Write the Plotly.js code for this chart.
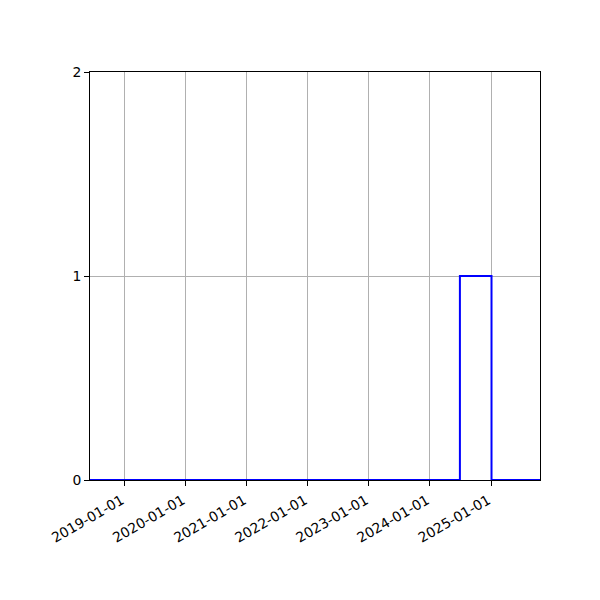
<!DOCTYPE html>
<html>
<head>
<meta charset="utf-8">
<script src="https://cdn.plot.ly/plotly-3.0.1.min.js"></script>
<style>
  html, body { margin: 0; padding: 0; background: #ffffff; }
  #chart { width: 600px; height: 600px; }
</style>
</head>
<body>
<div id="chart"></div>
<script>
// step series
const dates = ["2018-06-08", "2024-06-28", "2025-01-03", "2025-10-20"];
const values = [0, 1, 0, 0];

const yearTicks = ["2019-01-01", "2020-01-01", "2021-01-01", "2022-01-01",
  "2023-01-01", "2024-01-01", "2025-01-01"];
const yTicks = [0, 1, 2];

const FONT = "DejaVu Sans, sans-serif";

const trace = {
  x: dates,
  y: values,
  mode: "lines",
  line: { color: "#0000ff", width: 2, shape: "hv" },
  hoverinfo: "skip",
  showlegend: false,
};

const axisBase = {
  showline: true,
  linecolor: "#000000",
  linewidth: 1,
  mirror: true,
  ticks: "outside",
  ticklen: 5,
  tickwidth: 1,
  tickcolor: "#000000",
  showgrid: true,
  gridcolor: "#b0b0b0",
  gridwidth: 1,
  zeroline: false,
  tickfont: { family: FONT, size: 13.9, color: "#000000" },
};

const layout = {
  width: 600,
  height: 600,
  margin: { l: 90, r: 60, t: 72, b: 120 },
  paper_bgcolor: "#ffffff",
  plot_bgcolor: "#ffffff",
  font: { family: FONT, size: 13.9, color: "#000000" },
  showlegend: false,
  xaxis: {
    ...axisBase,
    type: "date",
    range: [dates[0], dates[dates.length - 1]],
    tickmode: "array",
    tickvals: yearTicks,
    ticktext: yearTicks,
    tickangle: -30,
    ticklabelshift: -3,
    ticklabelstandoff: 1,
  },
  yaxis: {
    ...axisBase,
    range: [0, 2],
    tickmode: "array",
    tickvals: yTicks,
    ticktext: yTicks.map(String),
  },
};

Plotly.newPlot("chart", [trace], layout, { displayModeBar: false, staticPlot: true });
</script>
</body>
</html>
